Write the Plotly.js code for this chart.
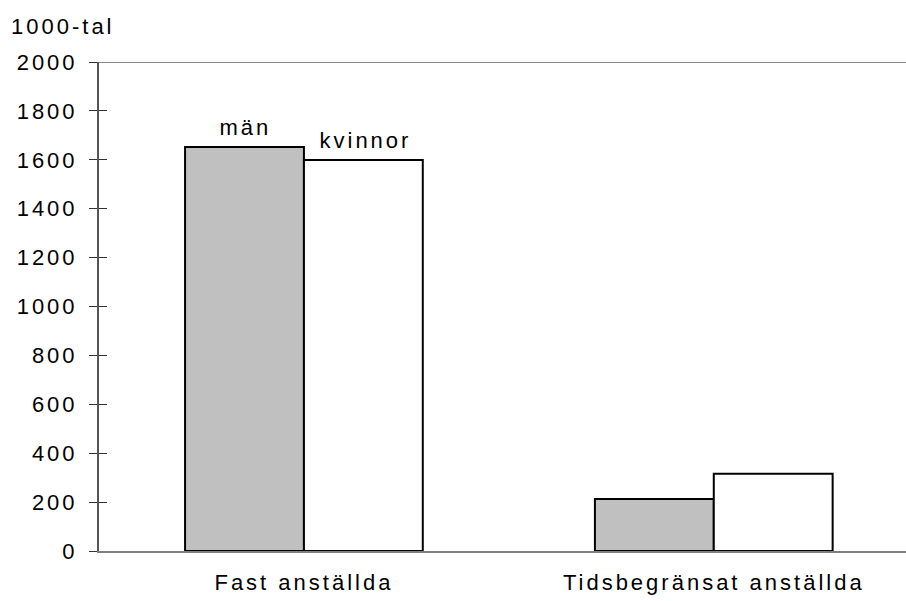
<!DOCTYPE html>
<html><head><meta charset="utf-8">
<script src="https://cdn.plot.ly/plotly-3.0.1.min.js"></script>
<style>html,body{margin:0;padding:0;background:#fff}#c{width:906px;height:601px}#c text{letter-spacing:3px}</style>
</head><body><div id="c"></div>
<script>
const categories = ['Fast anställda', 'Tidsbegränsat anställda'];
const manValues = [1652, 213];
const kvinnorValues = [1599, 316];
const seriesNames = ['män', 'kvinnor'];
const yTicks = [0, 200, 400, 600, 800, 1000, 1200, 1400, 1600, 1800, 2000];
const yUnit = '1000-tal';

const font = {family: 'Liberation Sans, Arial, Helvetica, sans-serif', size: 22, color: '#000'};

const traces = [
  {type: 'bar', name: seriesNames[0], x: categories, y: manValues,
   marker: {color: '#c0c0c0', line: {color: '#000', width: 2}}},
  {type: 'bar', name: seriesNames[1], x: categories, y: kvinnorValues,
   marker: {color: '#ffffff', line: {color: '#000', width: 2}}},
  {type: 'scatter', x: [categories[0]], y: [0], yaxis: 'y2', mode: 'markers',
   marker: {opacity: 0}, hoverinfo: 'skip', showlegend: false}
];

const layout = {
  width: 906, height: 601,
  margin: {l: 99, r: 0, t: 62, b: 50},
  paper_bgcolor: '#fff', plot_bgcolor: '#fff',
  font: font,
  showlegend: false,
  barmode: 'group', bargap: 0.42, bargroupgap: 0,
  xaxis: {
    type: 'category', range: [-0.5, 1.469],
    showline: true, linecolor: '#808080', linewidth: 2,
    ticks: '', showgrid: false, zeroline: false,
    tickfont: {size: 22}, ticklabelstandoff: 11
  },
  yaxis: {
    range: [0, 2000], tickvals: yTicks,
    showline: true, linecolor: '#555', linewidth: 2,
    ticks: 'outside', ticklen: 8, tickwidth: 1, tickcolor: '#333',
    showgrid: false, zeroline: false,
    tickfont: {size: 22}, ticklabelstandoff: 7
  },
  yaxis2: {
    overlaying: 'y', matches: 'y', range: [0, 2000], tickvals: yTicks,
    ticks: 'inside', ticklen: 8, tickwidth: 1, tickcolor: '#333',
    showticklabels: false, showgrid: false, zeroline: false, showline: false
  },
  shapes: [
    {type: 'line', xref: 'paper', yref: 'y', x0: 0, x1: 1, y0: yTicks[yTicks.length - 1], y1: yTicks[yTicks.length - 1],
     line: {color: '#888', width: 2}}
  ],
  annotations: [
    {text: yUnit, xref: 'paper', yref: 'paper', x: -0.0446, y: 1.0716,
     xanchor: 'center', yanchor: 'middle', showarrow: false, font: {size: 22}},
    {text: seriesNames[0], xref: 'x', yref: 'y', x: categories[0], y: manValues[0],
     xshift: -58, yshift: 5, xanchor: 'center', yanchor: 'bottom', showarrow: false, font: {size: 22}},
    {text: seriesNames[1], xref: 'x', yref: 'y', x: categories[0], y: kvinnorValues[0],
     xshift: 62, yshift: 5, xanchor: 'center', yanchor: 'bottom', showarrow: false, font: {size: 22}}
  ]
};

Plotly.newPlot('c', traces, layout, {displayModeBar: false, staticPlot: true});
</script>
</body></html>
